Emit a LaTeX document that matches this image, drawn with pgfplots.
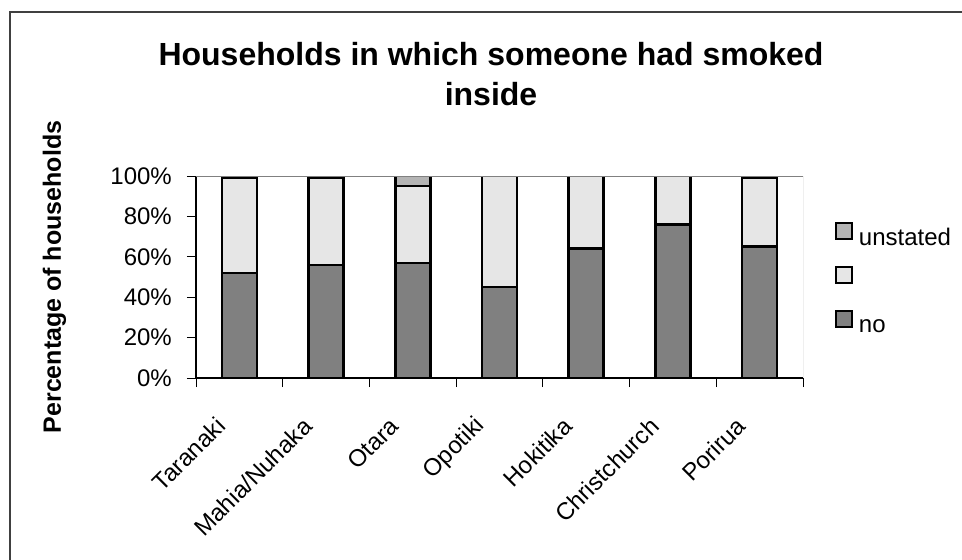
\documentclass[border=0pt]{standalone}
\usepackage{fontspec}
\setmainfont{Liberation Sans}
\usepackage{pgfplots}
\pgfplotsset{compat=1.18}

\definecolor{noGray}{RGB}{128,128,128}
\definecolor{yesGray}{RGB}{230,230,230}
\definecolor{unstGray}{RGB}{180,180,180}
\definecolor{frameGray}{RGB}{64,64,64}

\newcommand{\bodyfont}{\fontsize{24bp}{28bp}\selectfont}

% square legend key with a black outline
\pgfplotsset{
  squarekey/.style={
    legend image code/.code={\draw[##1, line width=1.8bp] (0bp,-3bp) rectangle (16bp,13bp);}
  }
}

\begin{document}
\begin{tikzpicture}
\useasboundingbox (0,0) rectangle (962bp,-560bp);
% page frame (top and left edges)
\draw[frameGray, line width=1.3bp] (10bp,-560bp) -- (10bp,-12bp) -- (962bp,-12bp);
% title
\node[anchor=base, inner sep=0pt, font=\fontsize{32bp}{38bp}\selectfont\bfseries]
  at (491bp,-65bp) {Households in which someone had smoked};
\node[anchor=base, inner sep=0pt, font=\fontsize{32bp}{38bp}\selectfont\bfseries]
  at (491bp,-105bp) {inside};

\begin{axis}[
  at={(196bp,-378bp)}, anchor=south west,
  scale only axis, width=607bp, height=202bp,
  xmin=0, xmax=7, ymin=0, ymax=100,
  enlargelimits=false,
  ybar stacked, bar width=35bp,
  axis x line*=bottom, axis y line*=left,
  axis line style={-, black, line width=1.2bp},
  tick align=outside, major tick length=9bp,
  tick style={black, line width=1bp},
  xtick={0,...,7}, xticklabels={},
  extra x ticks={0.5,1.5,...,6.5},
  extra x tick labels={Taranaki,Mahia/Nuhaka,Otara,Opotiki,Hokitika,Christchurch,Porirua},
  extra x tick style={major tick length=0pt,
    tick label style={xshift=-18.3bp, yshift=-44bp, rotate=45, anchor=east,
      inner sep=0pt, font=\bodyfont}},
  ytick={0,20,40,60,80,100},
  yticklabels={0\%,20\%,40\%,60\%,80\%,100\%},
  yticklabel style={font=\bodyfont, inner sep=0pt, anchor=east, xshift=-15bp},
  ylabel={Percentage of households},
  every axis y label/.style={at={(rel axis cs:0,0.5)}, xshift=-135bp, rotate=90,
    anchor=base, inner sep=0pt, font=\fontsize{25bp}{30bp}\selectfont\bfseries},
  legend style={at={(rel axis cs:1.0527,0.7723)}, anchor=north west,
    draw=none, fill=none, inner sep=0pt, font=\bodyfont,
    row sep=21bp, column sep=6bp,
    nodes={inner sep=0pt, text height=18bp, text depth=0bp}},
  legend cell align=left,
  reverse legend,
]
% plot-area border on the top and right
\draw[gray, line width=1bp] (rel axis cs:0,1) -- (rel axis cs:1,1) -- (rel axis cs:1,0);

\addplot[fill=noGray, draw=black, line width=2.6bp, squarekey]
  coordinates {(0.5,52) (1.5,56) (2.5,57) (3.5,45) (4.5,64) (5.5,76) (6.5,65)};
\addlegendentry{no}
\addplot[fill=yesGray, draw=black, line width=2.6bp, squarekey]
  coordinates {(0.5,47) (1.5,43) (2.5,38) (3.5,55) (4.5,36) (5.5,24) (6.5,34)};
\addlegendentry{}
\addplot[fill=unstGray, draw=black, line width=2.6bp, squarekey]
  coordinates {(0.5,1) (1.5,1) (2.5,5) (3.5,0) (4.5,0) (5.5,0) (6.5,1)};
\addlegendentry{unstated}
\end{axis}
\end{tikzpicture}
\end{document}
